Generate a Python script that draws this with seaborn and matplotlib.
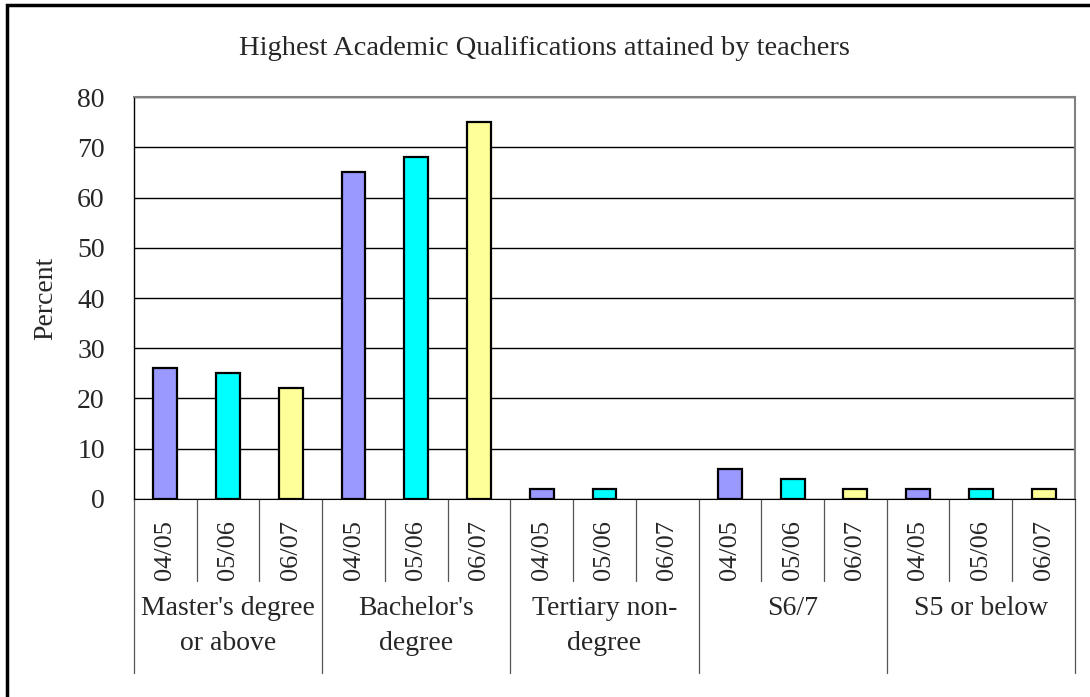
import pandas as pd
import seaborn as sns
import matplotlib.pyplot as plt
from matplotlib.patches import Rectangle

groups = ["Master's degree\nor above", "Bachelor's\ndegree", "Tertiary non-\ndegree", "S6/7", "S5 or below"]
years = ["04/05", "05/06", "06/07"]
values = [
    [26, 25, 22],
    [65, 68, 75],
    [2, 2, 0],
    [6, 4, 2],
    [2, 2, 2],
]
colors = ["#9999FF", "#00FFFF", "#FFFF99"]

rows = []
for gi, g in enumerate(groups):
    for yi, y in enumerate(years):
        rows.append({"slot": f"{gi}-{y}", "year": y, "group": g, "value": values[gi][yi]})
df = pd.DataFrame(rows)

sns.set_style("white")
plt.rcParams["font.family"] = ["Liberation Serif", "DejaVu Serif"]

fig = plt.figure(figsize=(10.9, 6.97), dpi=100)
ax = fig.add_axes([0.1229, 0.2841, 0.8633, 0.5767])

sns.barplot(data=df, x="slot", y="value", hue="year", palette=colors, dodge=False,
            saturation=1, width=0.38, edgecolor="black", linewidth=1.6, ax=ax, legend=False)
# zero-height bars draw nothing in the original
for p in ax.patches:
    if p.get_height() == 0:
        p.set_linewidth(0)

ax.set_ylim(0, 80)
ax.set_xlim(-0.5, len(df) - 0.5)
ax.set_yticks(range(0, 81, 10))
ax.tick_params(axis="y", labelsize=20, length=0, pad=21)
ax.yaxis.grid(True, color="black", linewidth=1)
ax.set_axisbelow(True)
for s in ["top", "right"]:
    ax.spines[s].set_color("#808080")
    ax.spines[s].set_linewidth(1.5)
ax.spines["left"].set_color("black")
ax.spines["bottom"].set_color("black")
ax.spines["left"].set_linewidth(1)

ax.set_xticks(range(len(df)))
ax.set_xticklabels(df["year"], rotation=90, fontsize=19)
ax.tick_params(axis="x", length=0, pad=15)
ax.set_xlabel("")
ax.set_ylabel("Percent", fontsize=20)
ax.yaxis.set_label_coords(-0.080, 0.5)

# category separators below the axis
tr = ax.get_xaxis_transform()
n = len(df)
for i in range(n + 1):
    x = i - 0.5
    low = -0.433 if i % 3 == 0 else -0.204
    ax.plot([x, x], [0, low], transform=tr, color="#555555", linewidth=0.9, clip_on=False)
for gi, g in enumerate(groups):
    for li, line in enumerate(g.split("\n")):
        ax.text(gi * 3 + 1, -0.272 - li * 0.087, line, transform=tr, ha="center", va="center",
                fontsize=20)

fig.text(0.4995, 0.931, "Highest Academic Qualifications attained by teachers",
         ha="center", va="center", fontsize=20.5)

fig.patches.append(Rectangle((0.006, -0.05), 1.2, 1.043, transform=fig.transFigure,
                             fill=False, edgecolor="black", linewidth=2.5))

fig.savefig("out.png", dpi=100)
